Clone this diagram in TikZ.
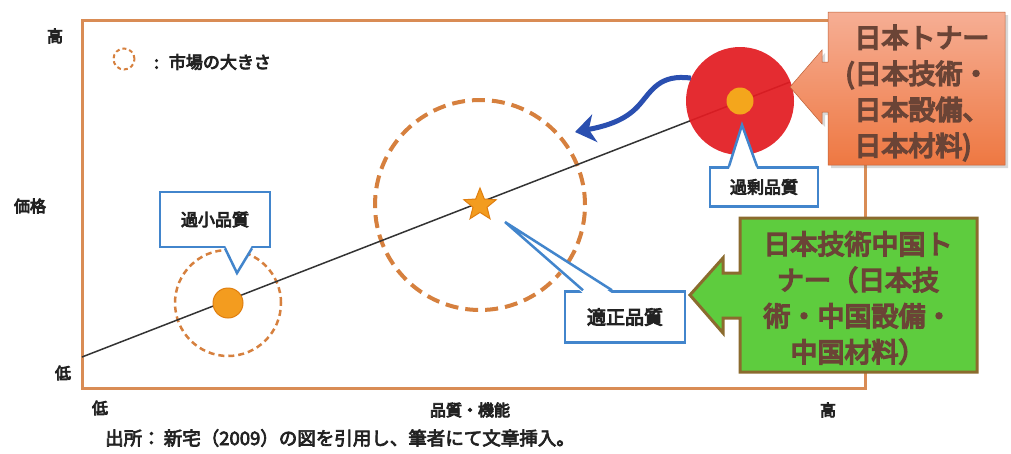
\documentclass[tikz,border=0pt]{standalone}
\usepackage{fontspec}
\newfontfamily\jp{Noto Sans CJK JP}
\newcommand\emb[2]{\special{pdf:literal direct 2 Tr #1 w}#2\special{pdf:literal direct 0 Tr}}
\usetikzlibrary{shapes.geometric,arrows.meta,shadows,calc}
\definecolor{frameC}{HTML}{D98C55}
\definecolor{dashC}{HTML}{D6803E}
\definecolor{dotC}{HTML}{F39C1F}
\definecolor{dotD}{HTML}{E07F10}
\definecolor{redC}{HTML}{E31C22}
\definecolor{calloutC}{HTML}{4285CC}
\definecolor{arrowC}{HTML}{2A4FB0}
\definecolor{greenC}{HTML}{5ECC3E}
\definecolor{greenD}{HTML}{8B6B2E}
\definecolor{orgTop}{HTML}{F6AE94}
\definecolor{orgBot}{HTML}{EE7842}
\definecolor{boxText}{HTML}{6B4436}
\definecolor{lblC}{HTML}{222222}
\begin{document}
\begin{tikzpicture}[x=1pt,y=-1pt,
  lbl/.style={font=\jp\fontsize{16}{18}\selectfont, text=lblC, inner sep=0},
  mktcircle/.style={circle, draw=dashC, inner sep=0, line width=2.5pt, dash pattern=on 6pt off 4pt},
  dotnode/.style={circle, fill=dotC, draw=dotD, line width=1pt, inner sep=0},
  callbox/.style={draw=calloutC, line width=2.5pt, fill=white, inner sep=0, font=\jp\fontsize{17}{20}\selectfont, text=lblC},
  callline/.style={draw=calloutC, line width=2.5pt, line join=miter},
  bigtext/.style={font=\jp\fontsize{27}{36}\selectfont, text=boxText, inner sep=0}
]
\useasboundingbox (0,0) rectangle (1011,453);
\fill[white] (0,0) rectangle (1011,453);

% plot frame
\draw[frameC, line width=3pt] (82,20) rectangle (865,388);

% legend
\node[mktcircle, line width=2pt, dash pattern=on 4pt off 3pt, minimum size=21pt] (legc) at (124,59) {};
\node[lbl, anchor=west, font=\jp\fontsize{17}{20}\selectfont] (legt) at (154,62) {\emb{0.8}{:\hspace{10pt}市場の大きさ}};

% market size circles
\node[mktcircle, minimum size=106pt] (smallc) at (228,303) {};
\node[mktcircle, line width=4pt, dash pattern=on 13pt off 7pt, minimum size=210pt] (bigc) at (480,205) {};

% quality line
\coordinate (ls) at (82,357);
\coordinate (le) at (790,82);
\draw[black!80, line width=1.5pt] (ls) -- (le);

% red circle (over-quality market)
\node[circle, fill=redC, fill opacity=0.93, inner sep=0, minimum size=108pt] (redc) at (740,101) {};

% dots and star
\node[dotnode, minimum size=30pt] (smalld) at (228,303) {};
\node[dotnode, draw=none, fill=dotC!90!yellow, minimum size=27pt] (redd) at (740,101) {};
\node[star, star points=5, star point ratio=2.3, fill=dotC, draw=dotD, line width=1pt, minimum size=34pt, inner sep=0] (starn) at (480,205) {};

% blue curved arrow
\coordinate (bt) at (575,132);
\draw[arrowC, line width=5pt, -{Stealth[length=20pt,width=28pt,inset=6pt]}]
  (redc.155) .. controls (660,74) and (652,90) .. (640,104)
  .. controls (628,118) and (612,125) .. (bt);

% callouts
\node[callbox, minimum width=110pt, minimum height=55pt] (kasho) at (215,219.5) {\emb{0.8}{過小品質}};
\coordinate (kashoTip) at (237,273);
\fill[white] ([xshift=10pt,yshift=3pt]kasho.south) -- (kashoTip) -- ([xshift=37pt,yshift=3pt]kasho.south) -- cycle;
\draw[callline] ([xshift=10pt]kasho.south) -- (kashoTip) -- ([xshift=37pt]kasho.south);

\node[callbox, minimum width=108pt, minimum height=39pt] (kajo) at (764,187) {\emb{0.8}{過剰品質}};
\coordinate (kajoTip) at (742,125);
\fill[white] ([xshift=-35pt,yshift=-3pt]kajo.north) -- (kajoTip) -- ([xshift=-7pt,yshift=-3pt]kajo.north) -- cycle;
\draw[callline] ([xshift=-35pt]kajo.north) -- (kajoTip) -- ([xshift=-7pt]kajo.north);

\node[callbox, minimum width=120pt, minimum height=51pt, font=\jp\fontsize{19}{22}\selectfont] (tekisei) at (625,317) {\emb{0.9}{適正品質}};
\coordinate (tekiseiTip) at (505,222);
\fill[white] ([xshift=-42pt,yshift=-3pt]tekisei.north) -- (tekiseiTip) -- ([xshift=-13pt,yshift=-3pt]tekisei.north) -- cycle;
\draw[callline] ([xshift=-42pt]tekisei.north) -- (tekiseiTip) -- ([xshift=-13pt]tekisei.north);

% orange arrow box: Japanese toner
\path[drop shadow={opacity=0.3, shadow xshift=3pt, shadow yshift=-3pt}, top color=orgTop, bottom color=orgBot, draw=orgBot!80!black, line width=0.5pt]
  (828,12) -- (1005,12) -- (1005,165) -- (828,165) -- (828,112) -- (822,112) -- (822,124)
  -- (790,87) -- (822,50) -- (822,62) -- (828,62) -- cycle;
\node[bigtext, align=left] (jptoner) at (922,93) {\emb{1.6}{日本トナー}\\\hspace*{-9pt}\emb{1.6}{(日本技術・}\\\emb{1.6}{日本設備、}\\\emb{1.6}{日本材料)}};

% green arrow box: Japanese tech Chinese toner
\path[fill=greenC, draw=greenD, line width=3pt, line join=miter]
  (740,218) -- (977,218) -- (977,372) -- (740,372) -- (740,318) -- (723,318) -- (723,333)
  -- (690,295) -- (723,258) -- (723,273) -- (740,273) -- cycle;
\node[bigtext, align=center] (cntoner) at (858,298) {\emb{1.6}{日本技術中国ト}\\\emb{1.6}{ナー（日本技}\\\emb{1.6}{術・中国設備・}\\\emb{1.6}{中国材料）}};

% axis labels
\node[lbl] (yhigh) at (55,36) {\emb{0.8}{高}};
\node[lbl] (ylabel) at (30,206) {\emb{0.8}{価格}};
\node[lbl] (ylow) at (63,373) {\emb{0.8}{低}};
\node[lbl] (xlow) at (100,408) {\emb{0.8}{低}};
\node[lbl] (xlabel) at (470,410) {\emb{0.8}{品質・機能}};
\node[lbl] (xhigh) at (828,410) {\emb{0.8}{高}};

% caption
\node[lbl, anchor=west, font=\jp\fontsize{18.5}{20}\selectfont] (caption) at (105,438) {\emb{0.7}{出所：\,新宅（2009）の図を引用し、筆者にて文章挿入。}};
\end{tikzpicture}
\end{document}
